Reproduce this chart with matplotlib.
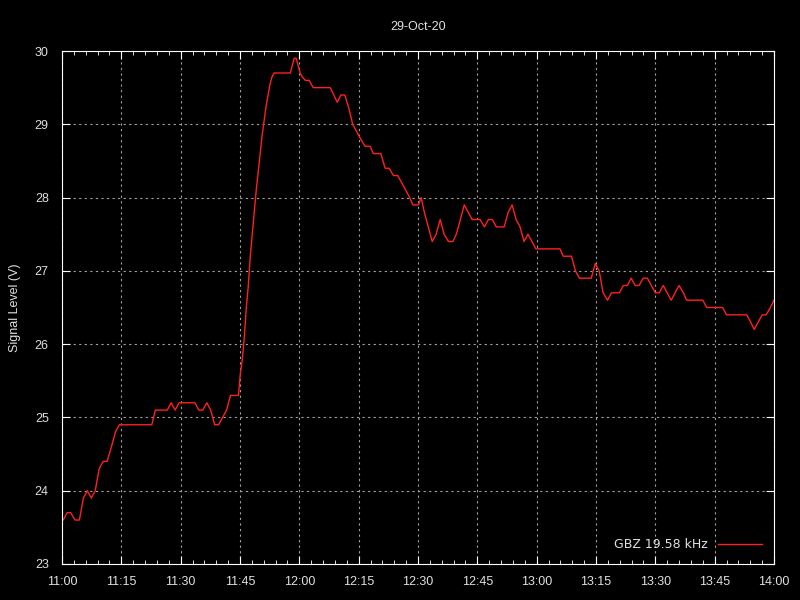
import datetime as dt

import matplotlib
matplotlib.use("Agg")
import matplotlib.dates as mdates
import matplotlib.pyplot as plt
from matplotlib.ticker import MultipleLocator

# Signal level readings, minutes after 11:00 and volts
minutes = [
    0.3, 1.3, 2.2, 3.3, 4.4, 5.4, 6.4, 7.4, 8.4, 9.4, 10.4, 11.4, 12.5, 13.5,
    14.5, 22.7, 23.6, 26.6, 27.6, 28.6, 29.6, 33.6, 34.6, 35.6, 36.6, 37.6,
    38.6, 39.6, 40.6, 41.6, 42.6, 44.6, 45.1, 45.6, 46.1, 46.6, 47.1, 47.6,
    48.1, 48.6, 49.1, 49.6, 50.1, 50.6, 51.1, 51.6, 52.1, 52.6, 53.1, 53.6,
    57.7, 58.2, 58.7, 59.2, 59.7, 60.2, 60.7, 61.5, 62.5, 63.5, 67.8, 69.6,
    70.5, 71.5, 72.6, 73.5, 74.5, 75.5, 76.6, 77.9, 78.7, 80.6, 81.7, 82.7,
    83.8, 84.9, 85.9, 86.9, 87.9, 88.7, 90.1, 90.8, 91.6, 92.6, 93.6, 94.6,
    95.6, 96.6, 97.7, 98.8, 99.7, 100.7, 101.7, 102.7, 103.7, 105.7, 106.8,
    107.8, 108.8, 109.8, 111.8, 112.8, 113.8, 114.8, 115.8, 116.8, 117.8,
    118.8, 119.8, 125.9, 126.7, 128.8, 129.8, 130.8, 133.8, 134.8, 135.8,
    136.8, 137.9, 138.9, 140.9, 141.9, 142.9, 143.9, 144.9, 145.9, 146.9,
    148.0, 149.0, 150.0, 151.0, 152.0, 153.0, 154.0, 155.0, 156.0, 157.1,
    157.9, 162.0, 163.0, 167.0, 168.0, 173.1, 174.1, 175.0, 176.0, 177.0,
    178.0, 179.1, 180.0,
]
level = [
    23.6, 23.7, 23.7, 23.6, 23.6, 23.9, 24.0, 23.9, 24.0, 24.3, 24.4, 24.4, 24.6, 24.8,
    24.9, 24.9, 25.1, 25.1, 25.2, 25.1, 25.2, 25.2, 25.1, 25.1, 25.2, 25.1,
    24.9, 24.9, 25.0, 25.1, 25.3, 25.3, 25.6, 25.8, 26.1, 26.5, 26.8, 27.2,
    27.5, 27.8, 28.1, 28.35, 28.6, 28.85, 29.05, 29.25, 29.4, 29.55, 29.65, 29.7,
    29.7, 29.8, 29.9, 29.9, 29.8, 29.7, 29.65, 29.6, 29.6, 29.5, 29.5, 29.3,
    29.4, 29.4, 29.2, 29.0, 28.9, 28.8, 28.7, 28.7, 28.6, 28.6, 28.4, 28.4,
    28.3, 28.3, 28.2, 28.1, 28.0, 27.9, 27.9, 28.0, 27.8, 27.6, 27.4, 27.5,
    27.7, 27.5, 27.4, 27.4, 27.5, 27.7, 27.9, 27.8, 27.7, 27.7, 27.6,
    27.7, 27.7, 27.6, 27.6, 27.8, 27.9, 27.7, 27.6, 27.4, 27.5,
    27.4, 27.3, 27.3, 27.2, 27.2, 27.0, 26.9, 26.9, 27.1, 27.0,
    26.7, 26.6, 26.7, 26.7, 26.8, 26.8, 26.9, 26.8, 26.8, 26.9,
    26.9, 26.8, 26.7, 26.7, 26.8, 26.7, 26.6, 26.7, 26.8, 26.7,
    26.6, 26.6, 26.5, 26.5, 26.4, 26.4, 26.3, 26.2, 26.3, 26.4,
    26.4, 26.5, 26.6,
]

start = dt.datetime(2020, 10, 29, 11, 0)
times = [start + dt.timedelta(minutes=m) for m in minutes]

fg = "#e0e0e0"
fig = plt.figure(figsize=(8, 6), dpi=100, facecolor="black")
ax = fig.add_axes([0.0775, 0.06, 0.89, 0.855], facecolor="black")

ax.plot(times, level, color="#ff2020", lw=1, label="GBZ 19.58 kHz")

ax.set_xlim(start, start + dt.timedelta(hours=3))
ax.set_ylim(23, 30)
ax.xaxis.set_major_locator(mdates.MinuteLocator(byminute=[0, 15, 30, 45]))
ax.xaxis.set_minor_locator(mdates.MinuteLocator(byminute=range(0, 60, 3)))
ax.xaxis.set_major_formatter(mdates.DateFormatter("%H:%M"))
ax.yaxis.set_major_locator(MultipleLocator(1))

for s in ax.spines.values():
    s.set_color("white")
ax.tick_params(which="both", direction="in", colors="white", labelcolor=fg,
               top=True, right=True, labelsize=9)
ax.tick_params(which="major", length=6)
ax.tick_params(which="minor", length=3)
ax.tick_params(axis="x", which="major", pad=8.5)
ax.tick_params(axis="y", which="major", pad=9.5)
ax.grid(True, which="major", color="#a0a0a0", linestyle=(0, (2, 3)), lw=0.8)

ax.set_title("29-Oct-20", color=fg, fontsize=9, pad=15)
ax.set_ylabel("Signal Level (V)", color=fg, fontsize=9, labelpad=10)

leg = ax.legend(loc="lower right", frameon=False, fontsize=9, markerfirst=False,
                handlelength=3.5, borderaxespad=0.6)
for t in leg.get_texts():
    t.set_color(fg)

for lbl in ax.get_xticklabels() + ax.get_yticklabels():
    lbl.set_family("Liberation Sans")
ax.title.set_family("Liberation Sans")
ax.yaxis.label.set_family("Liberation Sans")

fig.savefig("out.png", facecolor="black")
